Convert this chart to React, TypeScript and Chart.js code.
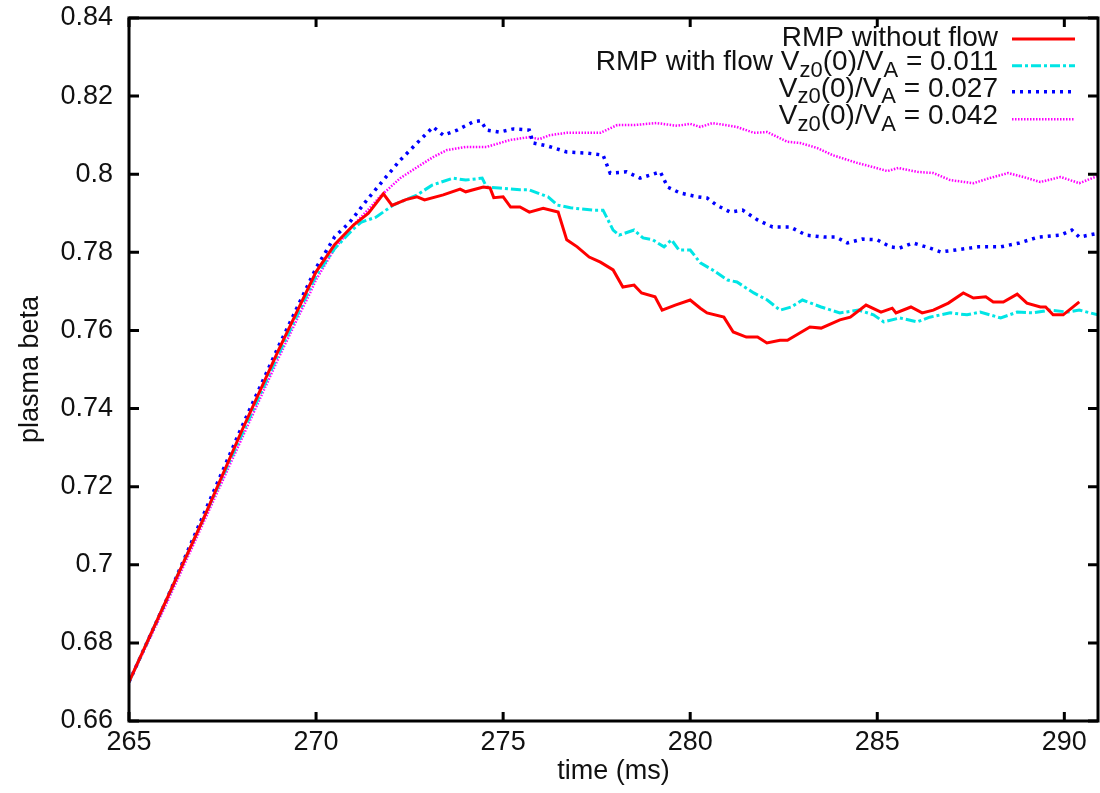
import React, { useEffect, useRef } from 'react';
import { Chart, registerables } from 'chart.js';
Chart.register(...registerables);

const xTicks = [265, 270, 275, 280, 285, 290];
const yTicks = [0.66, 0.68, 0.7, 0.72, 0.74, 0.76, 0.78, 0.8, 0.82, 0.84];
const yTickLabels = ['0.66', '0.68', '0.7', '0.72', '0.74', '0.76', '0.78', '0.8', '0.82', '0.84'];

const redX = [265, 266, 267, 268, 269, 269.5, 270, 270.5, 271, 271.4, 271.8, 272.03, 272.4, 272.7, 272.9, 273.4, 273.85, 274.0, 274.47, 274.65, 274.75, 275.0, 275.2, 275.45, 275.7, 276.07, 276.47, 276.7, 276.98, 277.3, 277.6, 277.94, 278.2, 278.5, 278.7, 279.06, 279.25, 279.6, 280.0, 280.27, 280.45, 280.9, 281.15, 281.5, 281.8, 282.05, 282.4, 282.6, 283.2, 283.5, 284.0, 284.28, 284.7, 285.1, 285.4, 285.5, 285.9, 286.2, 286.5, 286.9, 287.3, 287.57, 287.9, 288.1, 288.37, 288.74, 289.0, 289.36, 289.5, 289.7, 289.97, 290.4];
const redY = [0.670, 0.691, 0.712, 0.734, 0.755, 0.765, 0.775, 0.782, 0.787, 0.790, 0.795, 0.792, 0.7935, 0.7942, 0.7934, 0.7947, 0.7962, 0.7955, 0.7967, 0.7965, 0.794, 0.7942, 0.7916, 0.7916, 0.7903, 0.7913, 0.7903, 0.7832, 0.7814, 0.7788, 0.7775, 0.7755, 0.7711, 0.7716, 0.7696, 0.7686, 0.7652, 0.7665, 0.7678, 0.7657, 0.7645, 0.7634, 0.7596, 0.7583, 0.7583, 0.7568, 0.7575, 0.7575, 0.7609, 0.7606, 0.7627, 0.7634, 0.7665, 0.7647, 0.7657, 0.7645, 0.766, 0.7645, 0.7652, 0.767, 0.7696, 0.7683, 0.7686, 0.7673, 0.7673, 0.7693, 0.767, 0.766, 0.766, 0.764, 0.764, 0.7673];

const cyanX = [265, 266, 267, 268, 269, 269.5, 270, 270.5, 271, 271.2, 271.6, 272.06, 272.7, 273.1, 273.66, 274.0, 274.44, 274.56, 274.9, 275.45, 275.7, 276.2, 276.45, 276.8, 277.4, 277.67, 277.94, 278.1, 278.5, 278.74, 279.0, 279.3, 279.5, 279.7, 280.0, 280.27, 280.6, 281.0, 281.25, 281.7, 282.06, 282.4, 282.7, 283.0, 283.5, 284.0, 284.5, 284.9, 285.17, 285.6, 286.07, 286.4, 286.95, 287.4, 287.75, 288.3, 288.74, 289.17, 289.6, 290.1, 290.4, 290.9];
const cyanY = [0.670, 0.691, 0.712, 0.733, 0.754, 0.764, 0.774, 0.781, 0.786, 0.7877, 0.789, 0.7921, 0.7947, 0.7972, 0.799, 0.7985, 0.799, 0.7967, 0.7965, 0.796, 0.796, 0.7942, 0.7921, 0.7914, 0.7908, 0.7908, 0.7857, 0.7844, 0.7857, 0.7837, 0.7832, 0.7814, 0.7832, 0.7806, 0.7806, 0.7773, 0.7755, 0.7729, 0.7724, 0.7696, 0.7678, 0.7652, 0.766, 0.7678, 0.766, 0.7645, 0.7652, 0.764, 0.7622, 0.7632, 0.7622, 0.7634, 0.7645, 0.764, 0.7647, 0.7632, 0.7647, 0.7645, 0.7652, 0.7647, 0.7652, 0.764];

const blueX = [265, 266, 267, 268, 269, 269.5, 270, 270.5, 270.9, 271.36, 271.8, 272.25, 272.7, 273.13, 273.4, 273.77, 274.2, 274.4, 274.56, 274.9, 275.27, 275.7, 275.8, 276.2, 276.7, 277.25, 277.67, 277.86, 278.3, 278.66, 279.2, 279.4, 279.73, 280.2, 280.45, 280.7, 281.07, 281.4, 281.8, 282.2, 282.67, 283.1, 283.57, 283.9, 284.2, 284.6, 285.0, 285.35, 285.6, 285.96, 286.4, 286.7, 287.1, 287.7, 288.3, 288.8, 289.3, 289.9, 290.2, 290.4, 290.9];
const blueY = [0.670, 0.691, 0.713, 0.735, 0.756, 0.766, 0.776, 0.784, 0.7877, 0.7934, 0.7985, 0.8036, 0.808, 0.8121, 0.81, 0.8113, 0.8134, 0.8137, 0.8113, 0.8108, 0.8116, 0.8113, 0.808, 0.8072, 0.8057, 0.8054, 0.8049, 0.8003, 0.8006, 0.799, 0.8006, 0.7967, 0.7952, 0.7942, 0.7939, 0.7921, 0.7903, 0.7908, 0.7883, 0.7865, 0.7865, 0.7844, 0.7839, 0.7839, 0.7824, 0.7834, 0.7832, 0.7814, 0.7811, 0.7824, 0.7811, 0.7801, 0.7806, 0.7814, 0.7814, 0.7824, 0.7839, 0.7844, 0.7857, 0.7839, 0.7849];

const magentaX = [265, 266, 267, 268, 269, 269.5, 269.84, 270, 270.5, 271, 271.4, 271.7, 272.25, 272.7, 273.13, 273.5, 274.0, 274.56, 275.2, 275.7, 275.97, 276.25, 276.7, 277.25, 277.6, 278.05, 278.5, 279.1, 279.65, 280.0, 280.27, 280.6, 281.25, 281.7, 282.06, 282.6, 282.94, 283.4, 283.8, 284.46, 284.9, 285.27, 285.56, 286.07, 286.5, 286.95, 287.57, 288.0, 288.5, 288.9, 289.36, 289.9, 290.4, 290.96];
const magentaY = [0.670, 0.690, 0.711, 0.732, 0.753, 0.763, 0.7696, 0.773, 0.781, 0.787, 0.791, 0.7942, 0.799, 0.8018, 0.8044, 0.8062, 0.807, 0.807, 0.8088, 0.8095, 0.809, 0.81, 0.8106, 0.8106, 0.8106, 0.8126, 0.8126, 0.8131, 0.8124, 0.8129, 0.8121, 0.8131, 0.8121, 0.8106, 0.8108, 0.8083, 0.808, 0.8067, 0.8049, 0.8029, 0.8018, 0.8008, 0.8016, 0.8006, 0.8003, 0.7985, 0.7977, 0.799, 0.8003, 0.7993, 0.798, 0.7993, 0.7977, 0.7998];

// legend labels: segments [text, isSubscript]
const legendLabels: [string, boolean][][] = [
  [['RMP without flow', false]],
  [['RMP with flow V', false], ['z0', true], ['(0)/V', false], ['A', true], [' = 0.011', false]],
  [['V', false], ['z0', true], ['(0)/V', false], ['A', true], [' = 0.027', false]],
  [['V', false], ['z0', true], ['(0)/V', false], ['A', true], [' = 0.042', false]],
];

const FONT = "'Liberation Sans', Arial, Helvetica, sans-serif";

const series = [
  { xs: redX, ys: redY, color: '#ff0000', width: 3, dash: [] as number[] },
  { xs: cyanX, ys: cyanY, color: '#00e5e5', width: 3, dash: [10, 3, 3, 3] },
  { xs: blueX, ys: blueY, color: '#0000ff', width: 3.5, dash: [3, 5] },
  { xs: magentaX, ys: magentaY, color: '#ff00ff', width: 2.5, dash: [1.5, 1.5] },
];

const framePlugin = {
  id: 'frameAndLegend',
  afterDraw(chart: any) {
    const { ctx, chartArea } = chart;
    const { left, right, top, bottom } = chartArea;
    const xs = chart.scales.x;
    const ys = chart.scales.y;
    ctx.save();
    ctx.strokeStyle = '#000';
    ctx.lineWidth = 3;
    ctx.lineCap = 'butt';
    ctx.strokeRect(left, top, right - left, bottom - top);
    ctx.beginPath();
    xTicks.forEach((v) => {
      const px = xs.getPixelForValue(v);
      ctx.moveTo(px, bottom);
      ctx.lineTo(px, bottom - 9);
      ctx.moveTo(px, top);
      ctx.lineTo(px, top + 9);
    });
    yTicks.forEach((v) => {
      const py = ys.getPixelForValue(v);
      ctx.moveTo(left, py);
      ctx.lineTo(left + 10, py);
      ctx.moveTo(right, py);
      ctx.lineTo(right - 10, py);
    });
    ctx.stroke();

    // legend
    const fs = 28;
    const sfs = 22;
    const textRight = 998;
    const sampleL = 1012;
    const sampleR = 1075;
    const sampleY = [39, 65.7, 91.7, 119.3];
    const baseY = [46, 70, 96.5, 124];
    ctx.fillStyle = '#111';
    ctx.textBaseline = 'alphabetic';
    ctx.textAlign = 'left';
    legendLabels.forEach((segs, i) => {
      let total = 0;
      segs.forEach(([t, sub]) => {
        ctx.font = `${sub ? sfs : fs}px ${FONT}`;
        total += ctx.measureText(t).width;
      });
      let x = textRight - total;
      segs.forEach(([t, sub]) => {
        ctx.font = `${sub ? sfs : fs}px ${FONT}`;
        ctx.fillText(t, x, baseY[i] + (sub ? 6.5 : 0));
        x += ctx.measureText(t).width;
      });
      const s = series[i];
      ctx.beginPath();
      ctx.strokeStyle = s.color;
      ctx.lineWidth = s.width;
      ctx.setLineDash(s.dash);
      ctx.moveTo(sampleL, sampleY[i]);
      ctx.lineTo(sampleR, sampleY[i]);
      ctx.stroke();
      ctx.setLineDash([]);
    });
    ctx.restore();
  },
};

export default function App() {
  const ref = useRef<HTMLCanvasElement | null>(null);
  useEffect(() => {
    if (!ref.current) return;
    Chart.defaults.font.family = FONT;
    const chart = new Chart(ref.current, {
      type: 'line',
      data: {
        datasets: series.map((s, i) => ({
          label: 'series' + i,
          data: s.xs.map((x, j) => ({ x, y: s.ys[j] })),
          borderColor: s.color,
          borderWidth: s.width,
          borderDash: s.dash,
          borderCapStyle: 'butt',
          pointRadius: 0,
          tension: 0,
          fill: false,
        })),
      },
      options: {
        responsive: false,
        animation: false,
        layout: { padding: { top: 18, right: 2, left: 0, bottom: 0 } },
        plugins: { legend: { display: false }, tooltip: { enabled: false } },
        scales: {
          x: {
            type: 'linear',
            min: 265,
            max: 290.9,
            afterBuildTicks: (scale: any) => {
              scale.ticks = xTicks.map((v) => ({ value: v }));
            },
            afterFit: (scale: any) => {
              scale.height = 72;
              scale.paddingLeft = 0;
              scale.paddingRight = 0;
            },
            grid: { display: false, drawTicks: false },
            border: { display: false },
            ticks: {
              padding: 5,
              color: '#111',
              font: { size: 27 },
              maxRotation: 0,
              callback: (v: any) => String(v),
            },
            title: {
              display: true,
              text: 'time (ms)',
              color: '#111',
              font: { size: 27 },
              padding: { top: 0, bottom: 5 },
            },
          },
          y: {
            type: 'linear',
            min: 0.66,
            max: 0.84,
            afterBuildTicks: (scale: any) => {
              scale.ticks = yTicks.map((v) => ({ value: v }));
            },
            afterFit: (scale: any) => {
              scale.width = 129;
              scale.paddingTop = 0;
              scale.paddingBottom = 0;
            },
            grid: { display: false, drawTicks: false },
            border: { display: false },
            ticks: {
              padding: 16,
              color: '#111',
              font: { size: 27 },
              callback: (v: any) => {
                const idx = yTicks.findIndex((t) => Math.abs(t - v) < 1e-6);
                return idx >= 0 ? yTickLabels[idx] : '';
              },
            },
            title: {
              display: true,
              text: 'plasma beta',
              color: '#111',
              font: { size: 27 },
              padding: { top: 14, bottom: 0 },
            },
          },
        },
      },
      plugins: [framePlugin],
    });
    return () => chart.destroy();
  }, []);
  return (
    <div style={{ position: 'fixed', left: 0, top: 0, width: 1100, height: 793, background: '#fff' }}>
      <canvas ref={ref} width={1100} height={793} style={{ width: 1100, height: 793 }} />
    </div>
  );
}
